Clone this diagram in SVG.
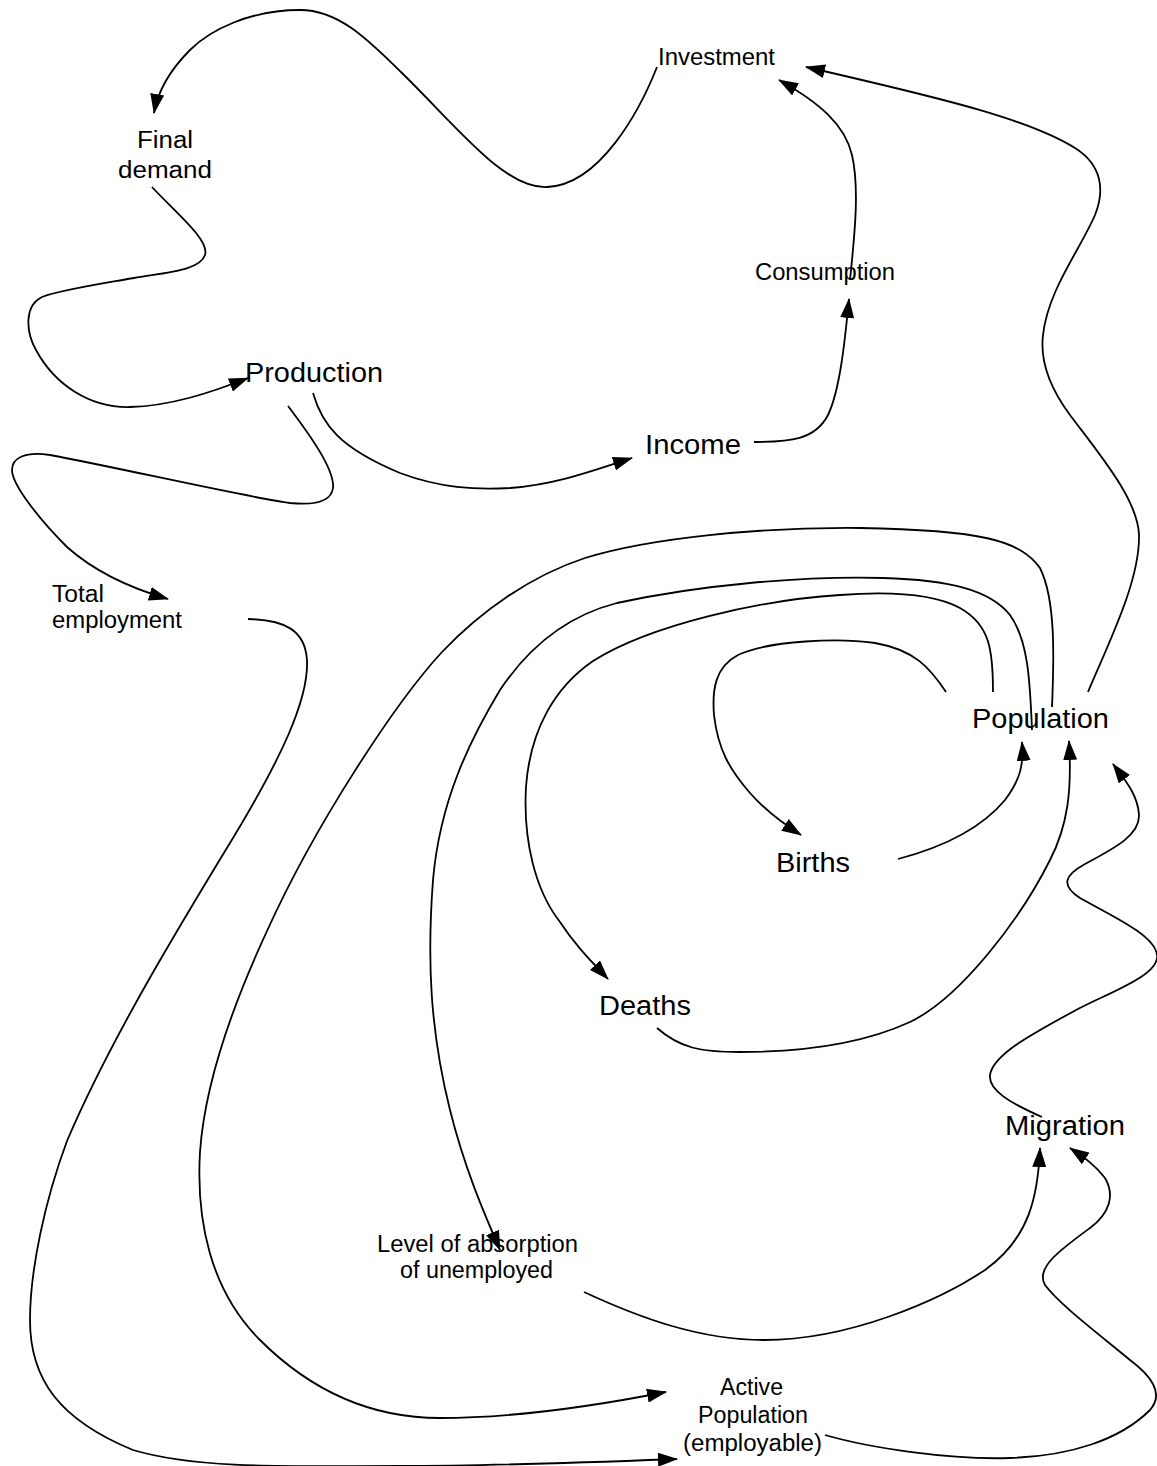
<svg xmlns="http://www.w3.org/2000/svg" width="1157" height="1466" viewBox="0 0 1157 1466">
<defs>
<marker id="arr" markerUnits="userSpaceOnUse" markerWidth="20" markerHeight="14" refX="19" refY="7" orient="auto">
<path d="M0,0 L20,7 L0,14 z" fill="#000"/>
</marker>
<style>
.c{fill:none;stroke:#000;stroke-width:1.8;marker-end:url(#arr)}
.L{font-family:"Liberation Sans",Arial,sans-serif;font-size:27px;fill:#000}
.S{font-family:"Liberation Sans",Arial,sans-serif;font-size:23px;fill:#000}
</style>
</defs>
<rect width="1157" height="1466" fill="#fff"/>
<g id="connectors">
<path class="c" d="M657,67 C640,110 600,185 547,187 C505,189 460,130 402,73 C370,42 340,10 300,10 C250,10 210,30 190,50 C170,70 158,90 154,113"/>
<path class="c" d="M152,187 C175,212 210,240 205,255 C200,270 170,272 134,278 C100,284 60,290 42,297 C25,305 25,330 36,350 C55,385 90,408 130,407 C170,406 210,393 248,378"/>
<path class="c" d="M313,393 C322,425 340,448 400,473 C440,488 475,490 510,488 C560,484 600,468 632,458"/>
<path class="c" d="M288,406 C310,435 335,470 333,488 C331,503 310,505 290,503 C250,498 120,468 50,455 C25,451 12,458 12,470 C12,485 40,520 67,547 C95,572 130,588 168,599"/>
<path class="c" d="M754,442 C790,442 815,440 828,415 C840,390 845,340 849,299"/>
<path class="c" d="M850,280 C854,240 860,190 852,155 C845,125 820,103 779,80"/>
<path class="c" d="M1088,692 C1110,640 1140,580 1139,535 C1138,500 1100,455 1070,415 C1050,388 1040,360 1043,335 C1048,290 1080,250 1095,215 C1105,190 1102,165 1075,148 C1030,120 950,100 806,67"/>
<path class="c" d="M946,692 C930,668 915,650 875,643 C840,638 770,640 738,655 C715,667 712,690 714,715 C718,750 730,770 750,793 C765,810 782,823 801,835"/>
<path class="c" d="M898,859 C940,848 980,830 1005,800 C1020,780 1024,765 1022,742"/>
<path class="c" d="M993,692 C993,650 990,625 960,608 C930,592 880,592 840,595 C760,600 650,625 593,661 C555,687 530,730 526,787 C523,840 535,890 560,922 C575,945 590,960 608,979"/>
<path class="c" d="M657,1028 C680,1048 700,1052 740,1052 C800,1052 860,1045 910,1022 C960,998 1020,920 1050,860 C1068,825 1072,790 1069,741"/>
<path class="c" d="M1032,730 C1030,680 1028,640 1010,615 C990,590 950,580 883,578 C800,576 700,585 617,603 C570,615 530,645 500,690 C470,740 440,800 433,880 C427,960 430,1030 450,1110 C465,1170 485,1215 500,1250"/>
<path class="c" d="M1052,707 C1054,660 1056,600 1040,568 C1020,540 980,530 860,528 C760,527 650,538 585,558 C530,576 480,612 442,652 C395,703 315,825 267,931 C235,1000 205,1080 200,1152 C196,1220 210,1290 260,1340 C310,1390 370,1418 440,1418 C520,1418 600,1405 666,1392"/>
<path class="c" d="M248,619 C285,620 305,630 307,660 C309,700 280,760 233,838 C180,925 110,1040 67,1141 C45,1200 30,1270 30,1320 C30,1380 60,1420 133,1450 C200,1470 300,1466 400,1466 C500,1466 600,1462 677,1459"/>
<path class="c" d="M584,1292 C640,1318 700,1340 764,1340 C850,1340 940,1300 985,1270 C1030,1238 1038,1195 1040,1148"/>
<path class="c" d="M825,1435 C870,1448 950,1460 1010,1458 C1070,1456 1120,1440 1150,1410 C1165,1393 1150,1375 1130,1360 C1100,1335 1060,1305 1045,1285 C1035,1268 1060,1250 1090,1228 C1110,1213 1115,1195 1105,1178 C1095,1165 1085,1158 1070,1148"/>
<path class="c" d="M1042,1117 C1010,1103 988,1090 990,1075 C993,1055 1030,1035 1076,1010 C1110,992 1160,975 1157,955 C1155,935 1110,915 1080,898 C1060,885 1065,875 1085,864 C1115,848 1140,835 1139,815 C1138,795 1125,780 1113,764"/>
</g>
<g id="investment"><text class="S" x="658" y="65" textLength="117" lengthAdjust="spacingAndGlyphs">Investment</text></g>
<g id="final-demand"><text class="S" x="137" y="148" textLength="56" lengthAdjust="spacingAndGlyphs">Final</text><text class="S" x="118" y="178" textLength="94" lengthAdjust="spacingAndGlyphs">demand</text></g>
<g id="consumption"><text class="S" x="755" y="280" textLength="140" lengthAdjust="spacingAndGlyphs">Consumption</text></g>
<g id="production"><text class="L" x="245" y="382" textLength="138" lengthAdjust="spacingAndGlyphs">Production</text></g>
<g id="income"><text class="L" x="645" y="454" textLength="96" lengthAdjust="spacingAndGlyphs">Income</text></g>
<g id="total-employment"><text class="S" x="52" y="602" textLength="52" lengthAdjust="spacingAndGlyphs">Total</text><text class="S" x="52" y="628" textLength="130" lengthAdjust="spacingAndGlyphs">employment</text></g>
<g id="population"><text class="L" x="972" y="728" textLength="137" lengthAdjust="spacingAndGlyphs">Population</text></g>
<g id="births"><text class="L" x="776" y="872" textLength="74" lengthAdjust="spacingAndGlyphs">Births</text></g>
<g id="deaths"><text class="L" x="599" y="1015" textLength="92" lengthAdjust="spacingAndGlyphs">Deaths</text></g>
<g id="migration"><text class="L" x="1005" y="1135" textLength="120" lengthAdjust="spacingAndGlyphs">Migration</text></g>
<g id="level-of-absorption"><text class="S" x="377" y="1252" textLength="201" lengthAdjust="spacingAndGlyphs">Level of absorption</text><text class="S" x="400" y="1278" textLength="153" lengthAdjust="spacingAndGlyphs">of unemployed</text></g>
<g id="active-population"><text class="S" x="720" y="1395" textLength="63" lengthAdjust="spacingAndGlyphs">Active</text><text class="S" x="698" y="1423" textLength="110" lengthAdjust="spacingAndGlyphs">Population</text><text class="S" x="683" y="1451" textLength="139" lengthAdjust="spacingAndGlyphs">(employable)</text></g>
</svg>
